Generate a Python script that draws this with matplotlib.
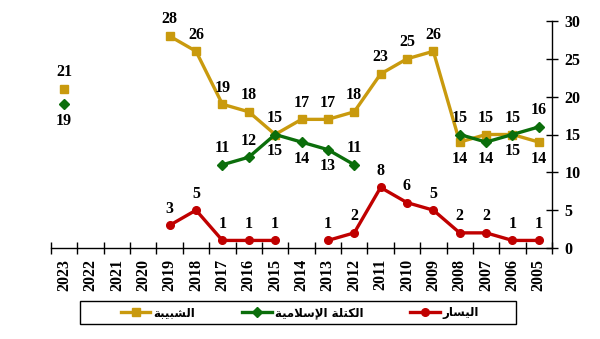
import numpy as np
import matplotlib
matplotlib.use("Agg")
import matplotlib.pyplot as plt
from matplotlib.patches import Rectangle
from matplotlib.lines import Line2D

nan = np.nan
years = ["2023", "2022", "2021", "2020", "2019", "2018", "2017", "2016", "2015", "2014",
         "2013", "2012", "2011", "2010", "2009", "2008", "2007", "2006", "2005"]

shabiba = [21, nan, nan, nan, 28, 26, 19, 18, 15, 17, 17, 18, 23, 25, 26, 14, 15, 15, 14]
kutla = [19, nan, nan, nan, nan, nan, 11, 12, 15, 14, 13, 11, nan, nan, nan, 15, 14, 15, 16]
yasar = [nan, nan, nan, nan, 3, 5, 1, 1, 1, nan, 1, 2, 8, 6, 5, 2, 2, 1, 1]

# label placement: +1 above, -1 below
shabiba_pos = [1, 0, 0, 0, 1, 1, 1, 1, 1, 1, 1, 1, 1, 1, 1, -1, 1, 1, -1]
kutla_pos = [-1, 0, 0, 0, 0, 0, 1, 1, -1, -1, -1, 1, 0, 0, 0, 1, -1, -1, 1]
yasar_pos = [1] * 19

# Arabic names in visual order with presentation forms
name_shabiba = "\uFE94\uFE92\uFEF4\uFE92\uFEB8\uFEDF\uFE8D"             # الشبيبة
name_kutla = "\uFE94\uFEF4\uFEE3\uFEFC\uFEB3\uFEF9\uFE8D \uFE94\uFEE0\uFE98\uFEDC\uFEDF\uFE8D"  # الكتلة الإسلامية
name_yasar = "\uFEAD\uFE8E\uFEB4\uFEF4\uFEDF\uFE8D"                     # اليسار

c_gold = "#C99A0E"
c_green = "#0B6E0B"
c_red = "#C00000"

serif = ["Liberation Serif", "DejaVu Serif"]

fig = plt.figure(figsize=(6, 3.39), dpi=100)
ax = fig.add_axes([51 / 600, 1 - 248 / 339, (552 - 51) / 600, (248 - 21) / 339])

x = np.arange(len(years))
series = [
    (shabiba, shabiba_pos, c_gold, "s", 5.5),
    (kutla, kutla_pos, c_green, "D", 5),
    (yasar, yasar_pos, c_red, "o", 5.5),
]
for vals, pos, col, mk, ms in series:
    v = np.array(vals, dtype=float)
    ax.plot(x, v, color=col, lw=2.4, marker=mk, ms=ms, mec=col, mfc=col, zorder=3)
    for xi, yi, p in zip(x, v, pos):
        if np.isnan(yi):
            continue
        ax.annotate(f"{int(yi)}", (xi, yi), xytext=(0, 12 * p), textcoords="offset points",
                    ha="center", va="center", fontsize=11.5, fontweight="bold",
                    family=serif, color="black")

ax.set_xlim(-0.5, len(years) - 0.5)
ax.set_ylim(0, 30)

for s in ["left", "top"]:
    ax.spines[s].set_visible(False)
ax.spines["right"].set_linewidth(1)
ax.spines["bottom"].set_linewidth(1)

ax.yaxis.tick_right()
ax.set_yticks([0, 5, 10, 15, 20, 25, 30])
ax.set_yticklabels(["0", "5", "10", "15", "20", "25", "30"], fontsize=11.5,
                   fontweight="bold", family=serif)
ax.tick_params(axis="y", direction="inout", length=8, width=1, pad=5)

ax.set_xticks(np.arange(-0.5, len(years), 1))
ax.set_xticklabels([])
ax.set_xticks(x, minor=True)
ax.set_xticklabels(years, minor=True, rotation=90, fontsize=11.5, fontweight="bold",
                   family=serif)
ax.tick_params(axis="x", which="major", direction="inout", length=8, width=1)
ax.tick_params(axis="x", which="minor", length=0, pad=8)

# legend
handles = [
    Line2D([], [], color=c_gold, lw=2.4, marker="s", ms=5.5),
    Line2D([], [], color=c_green, lw=2.4, marker="D", ms=5),
    Line2D([], [], color=c_red, lw=2.4, marker="o", ms=5.5),
]
labels = [name_shabiba, name_kutla, name_yasar]
leg = fig.legend(handles, labels, loc="center", bbox_to_anchor=(300 / 600, 1 - 312.5 / 339),
                 ncol=3, frameon=False, prop={"family": ["DejaVu Sans"], "weight": "bold", "size": 8.5},
                 handlelength=2.5, handletextpad=0.25, columnspacing=4.0)
fig.add_artist(Rectangle((80 / 600, 1 - 324 / 339), 436 / 600, 23 / 339,
                         transform=fig.transFigure, fill=False, edgecolor="black", lw=1))

fig.savefig("out.png", dpi=100)
